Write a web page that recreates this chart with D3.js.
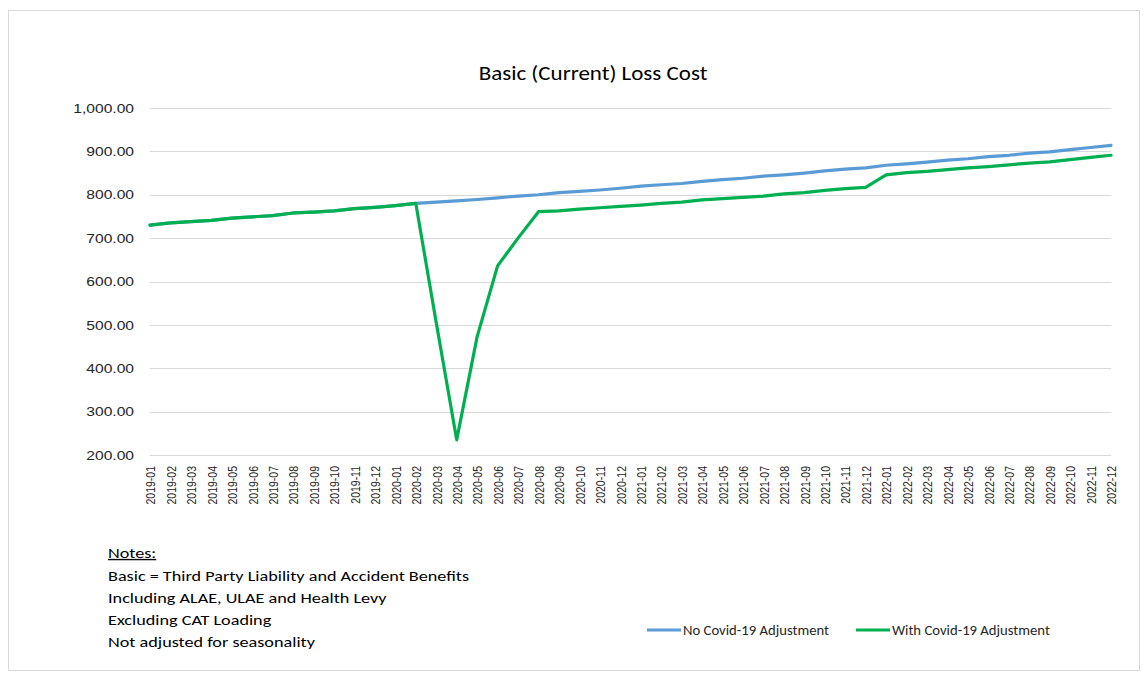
<!DOCTYPE html>
<html>
<head>
<meta charset="utf-8">
<script src="https://cdn.jsdelivr.net/npm/d3@7"></script>
<style>
  html, body { margin: 0; padding: 0; background: #fff; }
  svg { display: block; }
</style>
</head>
<body>
<svg id="chart" width="1148" height="675"></svg>
<script>
const months = [
  "2019-01","2019-02","2019-03","2019-04","2019-05","2019-06","2019-07","2019-08","2019-09","2019-10","2019-11","2019-12",
  "2020-01","2020-02","2020-03","2020-04","2020-05","2020-06","2020-07","2020-08","2020-09","2020-10","2020-11","2020-12",
  "2021-01","2021-02","2021-03","2021-04","2021-05","2021-06","2021-07","2021-08","2021-09","2021-10","2021-11","2021-12",
  "2022-01","2022-02","2022-03","2022-04","2022-05","2022-06","2022-07","2022-08","2022-09","2022-10","2022-11","2022-12"
];
const noCovid = [
  730, 735, 738, 741, 746, 749, 752, 758, 760, 763, 768, 771,
  775, 780, 783, 786, 789, 793, 797, 800, 805, 808, 811, 815,
  820, 823, 826, 831, 835, 838, 843, 846, 850, 855, 859, 862,
  868, 871, 875, 880, 883, 888, 891, 896, 899, 904, 909, 914
];
const withCovid = [
  730, 735, 738, 741, 746, 749, 752, 758, 760, 763, 768, 771,
  775, 780, 505, 235, 473, 636, 700, 761, 763, 767, 770, 773,
  776, 780, 783, 788, 791, 794, 797, 802, 805, 810, 814, 817,
  846, 851, 854, 858, 862, 865, 869, 873, 876, 881, 886, 891
];
const yTicks = [200, 300, 400, 500, 600, 700, 800, 900, 1000];
const seriesNames = ["No Covid-19 Adjustment", "With Covid-19 Adjustment"];
const seriesColors = ["#5b9bd5", "#00b050"];
const titleText = "Basic (Current) Loss Cost";
const notes = [
  "Basic = Third Party Liability and Accident Benefits",
  "Including ALAE, ULAE and Health Levy",
  "Excluding CAT Loading",
  "Not adjusted for seasonality"
];

const svg = d3.select("#chart");
const calibri = "Carlito, Calibri, Lato, 'Open Sans', sans-serif";
const arial = "'Liberation Sans', Arial, sans-serif";

// outer border
svg.append("rect").attr("x", 8.5).attr("y", 10.5).attr("width", 1131).attr("height", 660)
  .attr("fill", "#fff").attr("stroke", "#d9d9d9").attr("stroke-width", 1);

const plot = { left: 150, right: 1111, top: 108, bottom: 455 };

const x = d3.scalePoint().domain(months).range([plot.left, plot.right]);
const y = d3.scaleLinear().domain([200, 1000]).range([plot.bottom, plot.top]);

// gridlines
svg.append("g").selectAll("line").data(yTicks).join("line")
  .attr("x1", plot.left).attr("x2", plot.right)
  .attr("y1", d => Math.round(y(d)) + 0.5).attr("y2", d => Math.round(y(d)) + 0.5)
  .attr("stroke", "#d9d9d9").attr("stroke-width", 1);

// y axis
const yAxis = d3.axisLeft(y).tickValues(yTicks).tickSize(0).tickPadding(0)
  .tickFormat(d3.format(",.2f"));
const gy = svg.append("g").attr("transform", `translate(${plot.left - 16},0)`).call(yAxis);
gy.select(".domain").remove();
gy.selectAll("text").attr("font-family", arial).attr("font-size", 13).attr("fill", "#262626")
  .attr("transform", "scale(1.2,1)");

// x axis
const xAxis = d3.axisBottom(x).tickSize(0).tickPadding(0);
const gx = svg.append("g").attr("transform", `translate(0,${plot.bottom})`).call(xAxis);
gx.select(".domain").remove();
gx.selectAll("text")
  .attr("font-family", arial).attr("font-size", 10.5).attr("fill", "#262626")
  .attr("transform", "rotate(-90) scale(1,1.3)")
  .attr("text-anchor", "end")
  .attr("x", -11).attr("y", 0).attr("dy", "0.35em");

// lines
const line = d3.line().x((d, i) => x(months[i])).y(d => y(d));
[noCovid, withCovid].forEach((s, k) => {
  svg.append("path").datum(s)
    .attr("d", line)
    .attr("fill", "none")
    .attr("stroke", seriesColors[k])
    .attr("stroke-width", 3.2)
    .attr("stroke-linejoin", "round")
    .attr("stroke-linecap", "round");
});

// title
svg.append("text").attr("transform", "translate(593,80) scale(1.15,1)").attr("text-anchor", "middle")
  .attr("font-family", calibri).attr("font-size", 20).attr("fill", "#000")
  .text(titleText);

// notes
const notesG = svg.append("g").attr("font-family", calibri).attr("font-size", 14).attr("fill", "#000");
notesG.append("text").attr("transform", "translate(108,558) scale(1.3,1)")
  .attr("text-decoration", "underline").text("Notes:");
notes.forEach((t, i) => {
  notesG.append("text").attr("transform", `translate(108,${581 + i * 22}) scale(1.3,1)`).text(t);
});

// legend
const legendX = [647, 856];
const legend = svg.append("g").attr("font-family", calibri).attr("font-size", 14).attr("fill", "#262626");
seriesNames.forEach((n, k) => {
  legend.append("line").attr("x1", legendX[k]).attr("x2", legendX[k] + 34)
    .attr("y1", 630).attr("y2", 630)
    .attr("stroke", seriesColors[k]).attr("stroke-width", 3);
  legend.append("text").attr("transform", `translate(${legendX[k] + 36},635) scale(1.05,1)`).text(n);
});
</script>
</body>
</html>
